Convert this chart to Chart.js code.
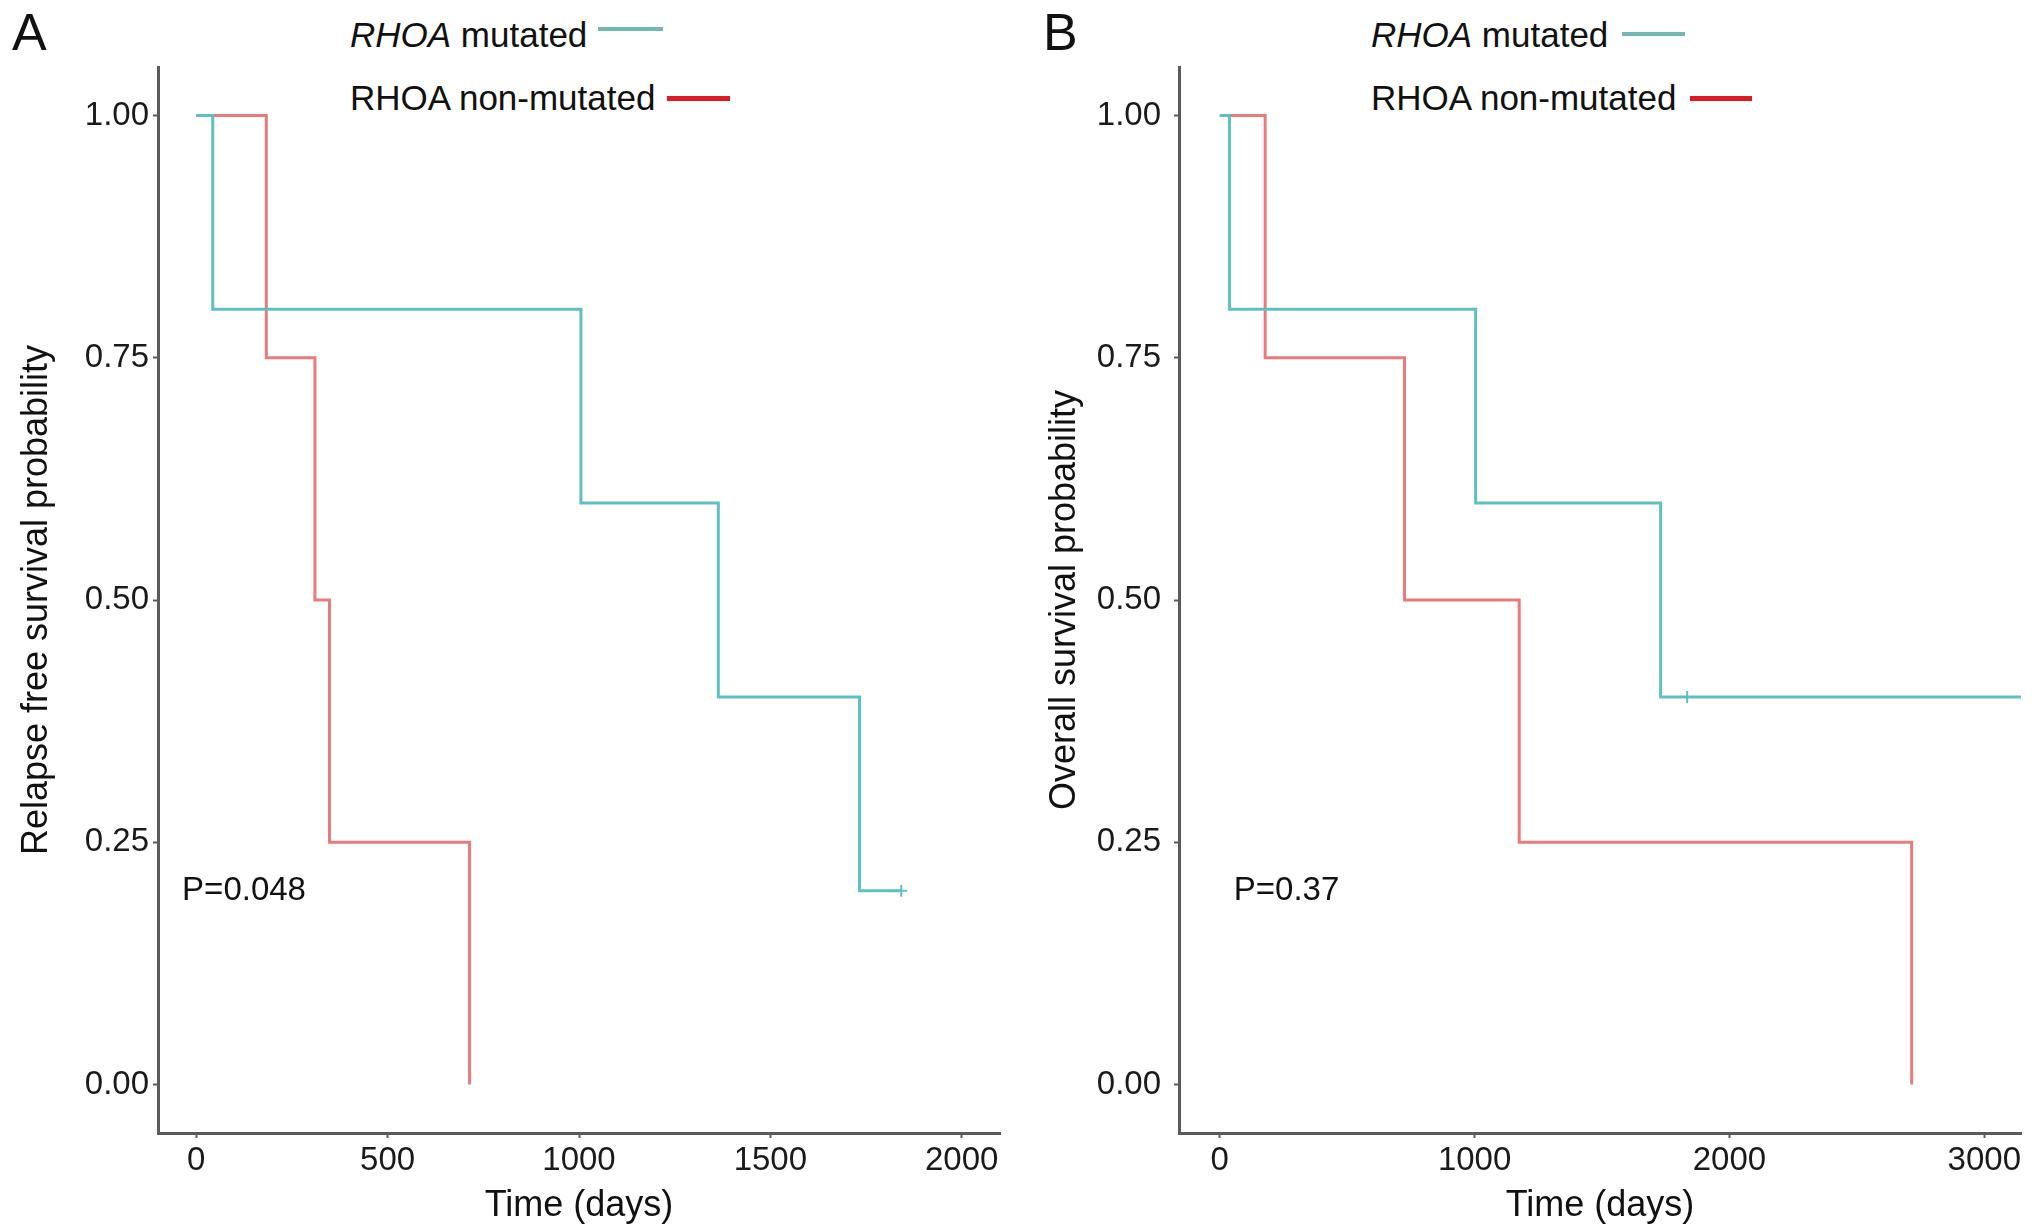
<!DOCTYPE html>
<html>
<head>
<meta charset="utf-8">
<script src="https://cdn.jsdelivr.net/npm/chart.js@4.4.0/dist/chart.umd.min.js"></script>
<style>
    html, body { margin: 0; padding: 0; background: #fff; }
    body { width: 2032px; height: 1230px; position: relative; overflow: hidden;
           font-family: "Liberation Sans", Arial, sans-serif; color: #111; }
    canvas { position: absolute; top: 0; }
    #chart-rfs { left: 0; }
    #chart-os { left: 1016px; }
    .painel { position: absolute; font-size: 52px; line-height: 1; }
    .leg { position: absolute; font-size: 35px; line-height: 1; white-space: nowrap; }
    .leg-linha { position: absolute; }
</style>
</head>
<body>

<div class="painel" style="left:12px; top:6px;">A</div>
<div class="painel" style="left:1043px; top:6px;">B</div>

<div class="leg" style="left:350px; top:17px;"><i>RHOA</i> mutated</div>
<div class="leg-linha" style="left:598px; top:27px; width:65px; height:4px; background:#72b8b0;"></div>
<div class="leg" style="left:350px; top:80px;">RHOA non-mutated</div>
<div class="leg-linha" style="left:667px; top:96px; width:63px; height:5px; background:#e01a22;"></div>

<div class="leg" style="left:1371px; top:17px;"><i>RHOA</i> mutated</div>
<div class="leg-linha" style="left:1622px; top:32px; width:63px; height:4px; background:#72b8b0;"></div>
<div class="leg" style="left:1371px; top:80px;">RHOA non-mutated</div>
<div class="leg-linha" style="left:1690px; top:96px; width:62px; height:5px; background:#e01a22;"></div>

<canvas id="chart-rfs" width="1016" height="1230"></canvas>
<canvas id="chart-os" width="1016" height="1230"></canvas>

<script>
// ===== DADOS =====

// A: sobrevida livre de recaída
const rfsMutTempo = [0, 43, 1005, 1364, 1733, 1842];
const rfsMutSobrev = [1, 0.8, 0.6, 0.4, 0.2, 0.2];
const rfsMutCensura = [1842];
const rfsNaoTempo = [0, 183, 310, 348, 714];
const rfsNaoSobrev = [1, 0.75, 0.5, 0.25, 0];

// B: sobrevida global
const osMutTempo = [0, 38, 1004, 1730, 3144];
const osMutSobrev = [1, 0.8, 0.6, 0.4, 0.4];
const osMutCensura = [1834];
const osNaoTempo = [0, 178, 725, 1175, 2715];
const osNaoSobrev = [1, 0.75, 0.5, 0.25, 0];

const yTicks = [0, 0.25, 0.5, 0.75, 1];
const xTicksRfs = [0, 500, 1000, 1500, 2000];
const xTicksOs = [0, 1000, 2000, 3000];

const COR_MUT = '#5fc0c4';
const COR_NAO = '#ea7b7c';
const COR_EIXO = '#5a5a5a';
const FONTE = '"Liberation Sans", Arial, sans-serif';

// junta tempo e sobrevida em pontos
function pontos(tempos, valores) {
    return tempos.map((t, i) => ({ x: t, y: valores[i] }));
}

function censuras(tempos, todosTempos, valores) {
    return tempos.map(t => {
        let idx = 0;
        todosTempos.forEach((tt, i) => { if (tt <= t) idx = i; });
        return { x: t, y: valores[idx] };
    });
}

// texto do valor de P
const pvalorPlugin = {
    id: 'pvalor',
    afterDatasetsDraw(chart, args, opts) {
        const { ctx, scales } = chart;
        ctx.save();
        ctx.font = '33px ' + FONTE;
        ctx.fillStyle = '#111';
        ctx.textAlign = 'left';
        ctx.textBaseline = 'middle';
        ctx.fillText(opts.texto, scales.x.getPixelForValue(opts.x), scales.y.getPixelForValue(opts.y));
        ctx.restore();
    }
};

function criarGrafico(id, cfg) {
    const ctx = document.getElementById(id);
    return new Chart(ctx, {
        type: 'line',
        data: {
            datasets: [
                {
                    data: pontos(cfg.mutTempo, cfg.mutSobrev),
                    borderColor: COR_MUT,
                    borderWidth: 3,
                    stepped: true,
                    pointRadius: 0,
                    fill: false
                },
                {
                    type: 'scatter',
                    data: censuras(cfg.censura, cfg.mutTempo, cfg.mutSobrev),
                    pointStyle: 'cross',
                    pointRadius: 6,
                    borderColor: COR_MUT,
                    borderWidth: 2,
                    showLine: false
                },
                {
                    data: pontos(cfg.naoTempo, cfg.naoSobrev),
                    borderColor: COR_NAO,
                    borderWidth: 3,
                    stepped: true,
                    pointRadius: 0,
                    fill: false
                }
            ]
        },
        options: {
            responsive: false,
            devicePixelRatio: 1,
            animation: false,
            layout: {
                padding: { top: 67, right: cfg.padDireita, bottom: 0, left: 0 }
            },
            plugins: {
                legend: { display: false },
                tooltip: { enabled: false },
                pvalor: { texto: cfg.pTexto, x: cfg.pX, y: 0.2 }
            },
            scales: {
                x: {
                    type: 'linear',
                    min: cfg.xMin,
                    max: cfg.xMax,
                    afterBuildTicks: s => { s.ticks = cfg.xTicks.map(v => ({ value: v })); },
                    afterFit: s => { s.height = 97; },
                    grid: { drawOnChartArea: false, tickLength: 5, tickWidth: 2, tickColor: COR_EIXO },
                    border: { display: true, color: COR_EIXO, width: 3 },
                    ticks: {
                        padding: 3,
                        maxRotation: 0,
                        color: '#1a1a1a',
                        font: { family: FONTE, size: 33 },
                        callback: v => String(v)
                    },
                    title: {
                        display: true,
                        text: 'Time (days)',
                        color: '#111',
                        font: { family: FONTE, size: 36 },
                        padding: { top: 0, bottom: 2 }
                    }
                },
                y: {
                    type: 'linear',
                    min: -0.05,
                    max: 1.05,
                    afterBuildTicks: s => { s.ticks = yTicks.map(v => ({ value: v })); },
                    afterFit: s => { s.width = cfg.larguraY; },
                    grid: { drawOnChartArea: false, tickLength: 5, tickWidth: 2, tickColor: COR_EIXO },
                    border: { display: true, color: COR_EIXO, width: 3 },
                    ticks: {
                        padding: cfg.padTickY,
                        color: '#1a1a1a',
                        font: { family: FONTE, size: 33 },
                        callback: v => v.toFixed(2)
                    },
                    title: {
                        display: true,
                        text: cfg.tituloY,
                        color: '#111',
                        font: { family: FONTE, size: 36 },
                        padding: { top: cfg.padTituloY, bottom: 0 }
                    }
                }
            }
        },
        plugins: [pvalorPlugin]
    });
}

criarGrafico('chart-rfs', {
    mutTempo: rfsMutTempo, mutSobrev: rfsMutSobrev, censura: rfsMutCensura,
    naoTempo: rfsNaoTempo, naoSobrev: rfsNaoSobrev,
    xMin: -100, xMax: 2100, xTicks: xTicksRfs,
    tituloY: 'Relapse free survival probability',
    pTexto: 'P=0.048', pX: -37,
    padDireita: 16, larguraY: 158, padTickY: 4, padTituloY: 15
});

criarGrafico('chart-os', {
    mutTempo: osMutTempo, mutSobrev: osMutSobrev, censura: osMutCensura,
    naoTempo: osNaoTempo, naoSobrev: osNaoSobrev,
    xMin: -160, xMax: 3144, xTicks: xTicksOs,
    tituloY: 'Overall survival probability',
    pTexto: 'P=0.37', pX: 55,
    padDireita: 11, larguraY: 163, padTickY: 13, padTituloY: 27
});
</script>
</body>
</html>
